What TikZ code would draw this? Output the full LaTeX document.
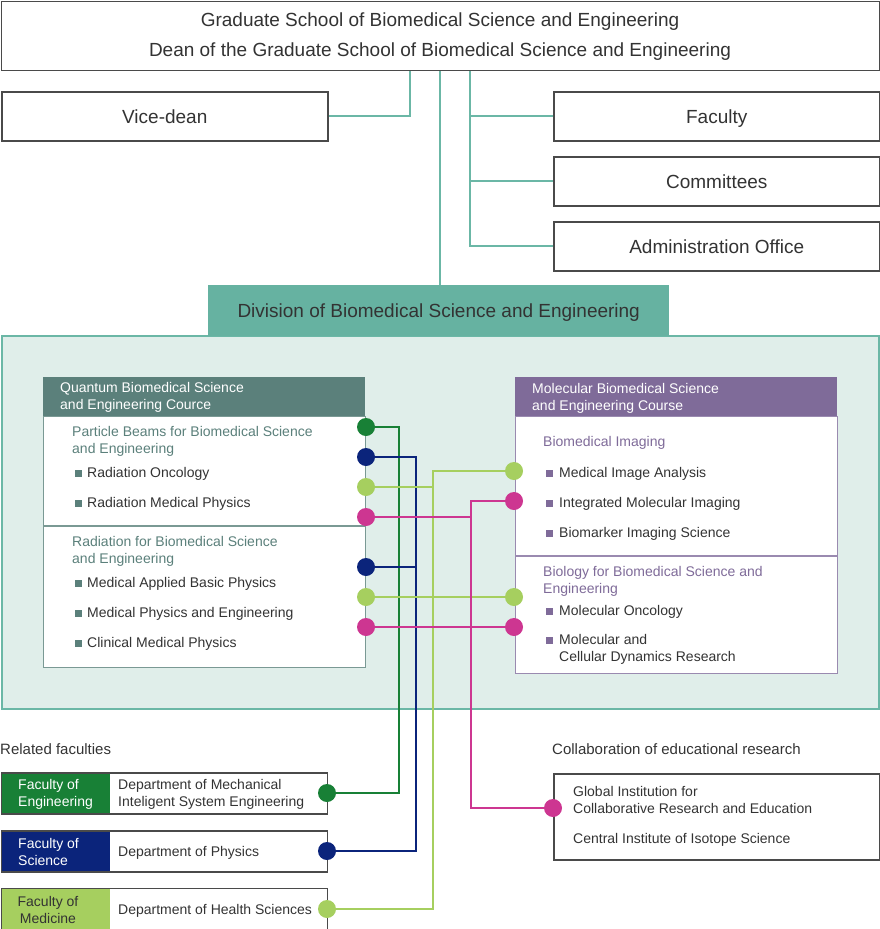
\documentclass[tikz,border=0pt]{standalone}
\usepackage{fontspec}
\setmainfont{Liberation Sans}
\usetikzlibrary{positioning,calc}

\definecolor{tealline}{HTML}{6BB7A6}
\definecolor{tealfill}{HTML}{66B2A1}
\definecolor{tealbg}{HTML}{E0EEEA}
\definecolor{qgrey}{HTML}{5B807B}
\definecolor{qline}{HTML}{7A9994}
\definecolor{mpurple}{HTML}{7F6B99}
\definecolor{mline}{HTML}{9A8AB0}
\definecolor{dgreen}{HTML}{188036}
\definecolor{navyblue}{HTML}{0B247B}
\definecolor{lgreen}{HTML}{A6CF5F}
\definecolor{mgt}{HTML}{CD3691}
\definecolor{boxline}{HTML}{4A4A4A}
\definecolor{txt}{HTML}{333333}

\newcommand{\qsq}{\textcolor{qgrey}{\rule{7pt}{7pt}}\hspace{5pt}}
\newcommand{\msq}{\textcolor{mpurple}{\rule{7pt}{7pt}}\hspace{6pt}}

\begin{document}
\begin{tikzpicture}[x=1pt,y=-1pt,
    box/.style={draw=boxline, line width=1.5pt, fill=white, inner sep=0, anchor=north west,
      text height=13.6pt, text depth=0pt, font=\fontsize{19}{23}\selectfont, text=txt},
    conn/.style={draw=tealline, line width=2pt},
    smalltext/.style={anchor=base west, align=left, inner sep=0, font=\fontsize{14}{17}\selectfont, text=txt},
    bigtext/.style={anchor=base, inner sep=0, font=\fontsize{19}{23}\selectfont, text=txt},
    dot/.style={circle, inner sep=0, minimum size=18pt},
    link/.style={line width=2.2pt}]

    % Fix the size of the page
    \useasboundingbox (0,0) rectangle (880,929);

    % Graduate school and the offices
    \node[box, minimum width=878, minimum height=69] (top) at (0.7,0.7) {};
    \node[bigtext] (gs) at (440,26.8) {Graduate School of Biomedical Science and Engineering};
    \node[bigtext] (dean) at (440,56.8) {Dean of the Graduate School of Biomedical Science and Engineering};

    \node[box, minimum width=326, minimum height=49] (vd) at (1,91) {Vice-dean};
    \node[box, minimum width=326, minimum height=49] (fac) at (553,91) {Faculty};
    \node[box, minimum width=326, minimum height=49] (com) at (553,156) {Committees};
    \node[box, minimum width=326, minimum height=49] (adm) at (553,221) {Administration Office};

    % Division
    \node[anchor=north west, draw=tealline, fill=tealbg, line width=2pt, minimum width=877, minimum height=373, inner sep=0] (area) at (1,335) {};
    \node[anchor=north west, fill=tealfill, minimum width=461, minimum height=51, inner sep=0,
      text height=13.6pt, text depth=0pt, font=\fontsize{19}{23}\selectfont, text=txt] (div) at (208,285) {Division of Biomedical Science and Engineering};

    % Connectors of the top part
    \draw[conn] ([xshift=-30pt]top.south) |- (vd.east);
    \draw[conn] (top.south) -- (top.south |- div.north);
    \draw[conn] ([xshift=30pt]top.south) |- (adm.west);
    \draw[conn] (fac.west) -- ++(-83,0);
    \draw[conn] (com.west) -- ++(-83,0);

    % Quantum course
    \node[anchor=north west, fill=qgrey, minimum width=322, minimum height=39, inner sep=0] (qhead) at (43,377) {};
    \node[anchor=north west, draw=qline, line width=1.2pt, fill=white, minimum width=322, minimum height=251, inner sep=0] (qbody) at (43,416) {};
    \draw[qline, line width=1.2pt] (43,526) -- (365,526);
    \node[smalltext, text=white] (qt) at (60,409) {Quantum Biomedical Science\\and Engineering Cource};
    \node[smalltext, text=qgrey] (pb) at (72,453) {Particle Beams for Biomedical Science\\and Engineering};
    \node[smalltext] (q1) at (87,477) {\llap{\qsq}Radiation Oncology};
    \node[smalltext] (q2) at (87,507) {\llap{\qsq}Radiation Medical Physics};
    \node[smalltext, text=qgrey] (rb) at (72,563) {Radiation for Biomedical Science\\and Engineering};
    \node[smalltext] (q3) at (87,587) {\llap{\qsq}Medical Applied Basic Physics};
    \node[smalltext] (q4) at (87,617) {\llap{\qsq}Medical Physics and Engineering};
    \node[smalltext] (q5) at (87,647) {\llap{\qsq}Clinical Medical Physics};

    % Molecular course
    \node[anchor=north west, fill=mpurple, minimum width=322, minimum height=39, inner sep=0] (mhead) at (515,377) {};
    \node[anchor=north west, draw=mline, line width=1.2pt, fill=white, minimum width=322, minimum height=257, inner sep=0] (mbody) at (515,416) {};
    \draw[mline, line width=1.2pt] (515,556) -- (837,556);
    \node[smalltext, text=white] (mt) at (532,410) {Molecular Biomedical Science\\and Engineering Course};
    \node[smalltext, text=mpurple] (bi) at (543,446) {Biomedical Imaging};
    \node[smalltext] (m1) at (559,477) {\llap{\msq}Medical Image Analysis};
    \node[smalltext] (m2) at (559,507) {\llap{\msq}Integrated Molecular Imaging};
    \node[smalltext] (m3) at (559,537) {\llap{\msq}Biomarker Imaging Science};
    \node[smalltext, text=mpurple] (bb) at (543,593) {Biology for Biomedical Science and\\Engineering};
    \node[smalltext] (m4) at (559,615) {\llap{\msq}Molecular Oncology};
    \node[smalltext] (m5) at (559,661) {\llap{\msq}Molecular and\\Cellular Dynamics Research};

    % Related faculties
    \node[smalltext, font=\fontsize{15}{18}\selectfont] (rel) at (0,754.5) {Related faculties};
    \node[anchor=north west, fill=dgreen, minimum width=109, minimum height=41, inner sep=0] (feng) at (0.7,772) {};
    \node[anchor=north west, fill=navyblue, minimum width=109, minimum height=41, inner sep=0] (fsci) at (0.7,830) {};
    \node[anchor=north west, fill=lgreen, minimum width=109, minimum height=41, inner sep=0] (fmed) at (0.7,887.5) {};
    \foreach \y/\n in {772/beng,830/bsci,887.5/bmed}
      \node[anchor=north west, draw=boxline, line width=1.5pt, minimum width=326, minimum height=41, inner sep=0] (\n) at (0.7,\y) {};
    \node[smalltext, text=white] (fet) at (18,806) {Faculty of\\Engineering};
    \node[smalltext, text=white] (fst) at (18,865) {Faculty of\\Science};
    \node[smalltext, align=center, anchor=base] (fmt) at (48,923) {Faculty of\\Medicine};
    \node[smalltext] (deng) at (118,806) {Department of Mechanical\\Inteligent System Engineering};
    \node[smalltext] (dsci) at (118,856) {Department of Physics};
    \node[smalltext] (dmed) at (118,914) {Department of Health Sciences};

    % Collaboration
    \node[smalltext, font=\fontsize{15}{18}\selectfont] (col) at (552,754.5) {Collaboration of educational research};
    \node[anchor=north west, draw=boxline, line width=1.5pt, minimum width=326, minimum height=86, inner sep=0] (cbox) at (553,773) {};
    \node[smalltext] (gi) at (573,813) {Global Institution for\\Collaborative Research and Education};
    \node[smalltext] (ci) at (573,843) {Central Institute of Isotope Science};

    % Dots
    \node[dot, fill=dgreen] (qd1) at (366,427) {};
    \node[dot, fill=navyblue] (qd2) at (366,457) {};
    \node[dot, fill=lgreen] (qd3) at (366,487) {};
    \node[dot, fill=mgt] (qd4) at (366,517) {};
    \node[dot, fill=navyblue] (qd5) at (366,567) {};
    \node[dot, fill=lgreen] (qd6) at (366,597) {};
    \node[dot, fill=mgt] (qd7) at (366,627) {};
    \node[dot, fill=lgreen] (md1) at (514,471) {};
    \node[dot, fill=mgt] (md2) at (514,501) {};
    \node[dot, fill=lgreen] (md3) at (514,597) {};
    \node[dot, fill=mgt] (md4) at (514,627) {};
    \node[dot, fill=dgreen] (fd1) at (327,793) {};
    \node[dot, fill=navyblue] (fd2) at (327,851) {};
    \node[dot, fill=lgreen] (fd3) at (327,909) {};
    \node[dot, fill=mgt] (cd) at (553,808) {};

    % Trunks of the links
    \coordinate (gx) at (399,0);
    \coordinate (nx) at (416,0);
    \coordinate (lx) at (433,0);
    \coordinate (px) at (471,0);

    % Links
    \draw[link, dgreen] (qd1.east) -| (gx |- fd1) -- (fd1.east);
    \draw[link, navyblue] (qd2.east) -| (nx |- fd2) -- (fd2.east);
    \draw[link, navyblue] (qd5.east) -- (nx |- qd5);
    \draw[link, lgreen] (md1.west) -| (lx |- fd3) -- (fd3.east);
    \draw[link, lgreen] (qd3.east) -- (lx |- qd3);
    \draw[link, lgreen] (qd6.east) -- (md3.west);
    \draw[link, mgt] (md2.west) -| (px |- cd) -- (cd.west);
    \draw[link, mgt] (qd4.east) -- (px |- qd4);
    \draw[link, mgt] (qd7.east) -- (md4.west);
\end{tikzpicture}
\end{document}
